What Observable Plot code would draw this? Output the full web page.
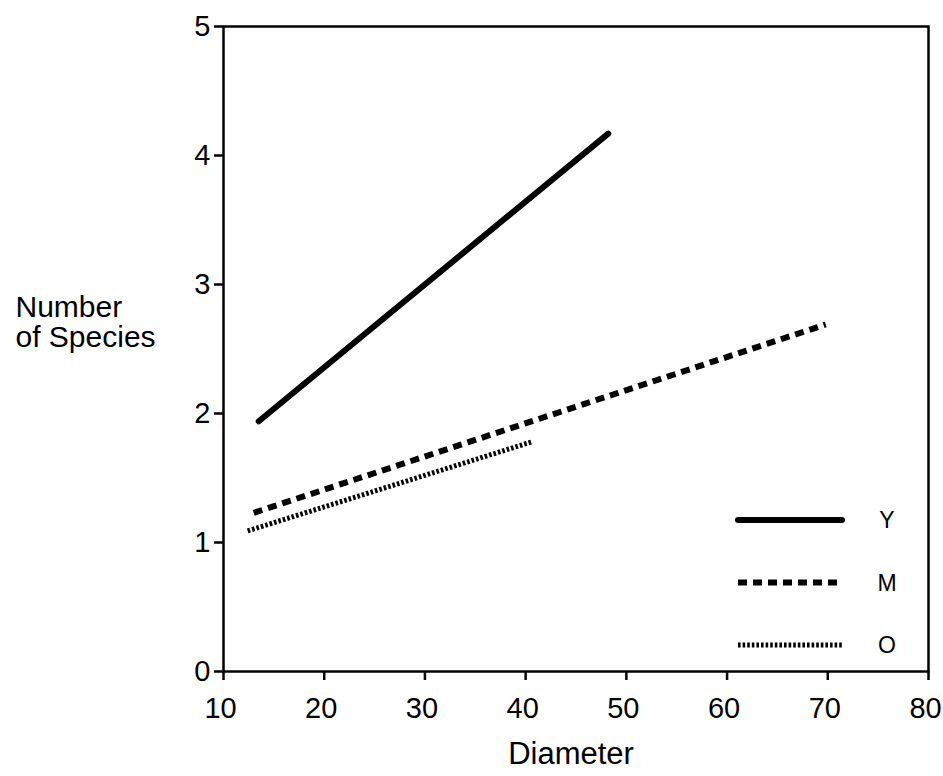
<!DOCTYPE html>
<html>
<head>
<meta charset="utf-8">
<script src="https://cdn.jsdelivr.net/npm/d3@7"></script>
<script src="https://cdn.jsdelivr.net/npm/@observablehq/plot@0.6"></script>
<style>
  html, body { margin: 0; padding: 0; background: #fff; }
  #wrap { position: relative; width: 943px; height: 776px; }
  #legend { position: absolute; left: 0; top: 0; }
</style>
</head>
<body>
<div id="wrap"></div>
<script>
// ---- data ----
const series = ["Y", "M", "O"];
const diameterStart = [13.5, 13.0, 12.4];
const diameterEnd = [48.2, 69.8, 40.6];
const speciesStart = [1.94, 1.23, 1.09];
const speciesEnd = [4.17, 2.69, 1.78];
const xTicks = [10, 20, 30, 40, 50, 60, 70, 80];
const yTicks = [0, 1, 2, 3, 4, 5];
const xLabel = "Diameter";
const yLabel = "Number\nof Species";

// styles per series
const dashes = { Y: null, M: "9,6", O: "2.6,2" };
const widths = { Y: 6, M: 6, O: 5 };

const rows = [];
series.forEach((s, i) => {
  rows.push({ s, x: diameterStart[i], y: speciesStart[i] });
  rows.push({ s, x: diameterEnd[i], y: speciesEnd[i] });
});

const font = "'Liberation Sans', Arial, Helvetica, sans-serif";

const chart = Plot.plot({
  width: 943,
  height: 776,
  marginLeft: 223,
  marginRight: 15,
  marginTop: 26,
  marginBottom: 105,
  style: { fontFamily: font, fontSize: "29px", color: "#000", background: "#fff" },
  x: { domain: [10, 80] },
  y: { domain: [0, 5] },
  marks: [
    Plot.frame({ stroke: "#000", strokeWidth: 2.5 }),
    Plot.axisX({ ticks: xTicks, tickFormat: "d", tickSize: 9, tickPadding: 17, strokeWidth: 2.5, label: null, fontSize: 29 }),
    Plot.axisY({ ticks: yTicks, tickFormat: "d", tickSize: 9, tickPadding: 4, strokeWidth: 2.5, label: null, fontSize: 29 }),
    ...series.map(s => Plot.line(rows.filter(r => r.s === s), {
      x: "x", y: "y", stroke: "#000", strokeWidth: widths[s],
      strokeDasharray: dashes[s], strokeLinecap: s === "Y" ? "round" : "butt"
    })),
    Plot.text([xLabel], { text: d => d, frameAnchor: "bottom", dy: 83, dx: -5, lineAnchor: "middle", fontSize: 31, fill: "#000" }),
    Plot.text([yLabel], { text: d => d, frameAnchor: "left", dx: -208, dy: -27, textAnchor: "start", lineAnchor: "middle", lineHeight: 1.0, fontSize: 30, fill: "#000" })
  ]
});

// nudge x tick labels slightly left as in the reference
d3.select(chart).selectAll("g[aria-label='x-axis tick label'] text").attr("dx", -3);

const wrap = document.getElementById("wrap");
wrap.appendChild(chart);

// ---- legend overlay ----
const leg = d3.select(wrap).append("svg")
  .attr("id", "legend").attr("width", 943).attr("height", 776);
const legTop = 520, legStep = 62.5, lineX0 = 738, lineX1 = 842, labelX = 887;
series.forEach((s, i) => {
  const yy = legTop + i * legStep;
  leg.append("line")
    .attr("x1", lineX0).attr("x2", lineX1).attr("y1", yy).attr("y2", yy)
    .attr("stroke", "#000").attr("stroke-width", widths[s])
    .attr("stroke-dasharray", dashes[s])
    .attr("stroke-linecap", s === "Y" ? "round" : "butt");
  leg.append("text")
    .attr("x", labelX).attr("y", yy).attr("dy", "0.36em")
    .attr("text-anchor", "middle")
    .attr("font-family", font).attr("font-size", 23).attr("fill", "#000")
    .text(s);
});
</script>
</body>
</html>
